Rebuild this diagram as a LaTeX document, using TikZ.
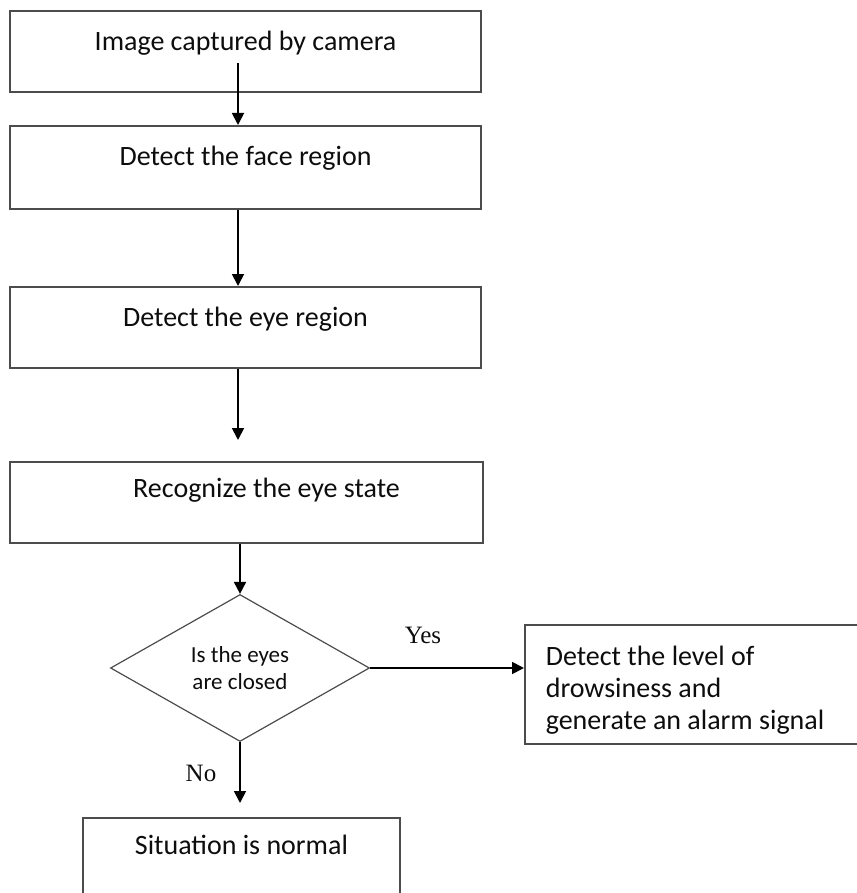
\documentclass[tikz,border=0pt]{standalone}
\usepackage{fontspec}
\setmainfont{Carlito}
\newfontfamily\answerFont{Liberation Serif}
\usetikzlibrary{shapes.geometric,arrows.meta,positioning,calc}
\definecolor{flowEdge}{gray}{0.30}
\definecolor{flowInk} {gray}{0.05}

\begin{document}
\begin{tikzpicture}[x=1pt, y=-1pt,
      stepbox/.style={draw=flowEdge, line width=1.6pt, anchor=north,
                      minimum width=471pt, inner ysep=0pt,
                      text height=40pt, text depth=41pt, text=flowInk,
                      font=\fontsize{28}{32}\selectfont},
      decision/.style={diamond, draw=flowEdge, line width=1.2pt,
                       minimum width=259pt, minimum height=147pt, aspect=1.76,
                       inner sep=0pt, align=center, text=flowInk,
                       font=\fontsize{23}{27}\selectfont},
      flow/.style={-{Triangle[length=12pt,width=12pt]}, line width=1.8pt, draw=black},
      answer/.style={text=flowInk, font=\answerFont\fontsize{25}{28}\selectfont}]
    \useasboundingbox (0,0) rectangle (856,893);
    % main column
    \node[stepbox] (camera) at (245.5,10)  {Image captured by camera};
    \node[stepbox, text depth=43pt] (face) at (245.5,125) {Detect the face region};
    \node[stepbox] (eyes)   at (245.5,286) {Detect the eye region};
    \node[stepbox, minimum width=473pt, text height=36pt, text depth=45pt]
      (state) at (246.5,461) {\hspace*{40pt}Recognize the eye state};
    \node[decision] (closed) at (240,668) {Is the eyes\\are closed};
    % outcomes
    \node[draw=flowEdge, line width=1.6pt, anchor=north west, text=flowInk,
          minimum height=119pt, text width=294pt, inner xsep=21pt, align=flush left,
          font=\fontsize{28}{32}\selectfont]
      (alarm) at (524,624) {\rule{0pt}{31pt}Detect the level of\\drowsiness and\\generate an alarm signal};
    \node[stepbox, minimum width=317pt, text height=37pt, text depth=50pt]
      (normal) at (241.5,817) {Situation is normal};
    \node[answer] (yes) at (423,635) {Yes};
    \node[answer] (no)  at (201,773) {No};

    \coordinate (cameraTail) at (238,63);
    \coordinate (eyesHead)   at (238,440);
    \coordinate (noHead)     at (240,803);
    \draw[flow] (cameraTail) -- (cameraTail |- face.north);
    \draw[flow] (face.south -| cameraTail) -- (eyes.north -| cameraTail);
    \draw[flow] (eyes.south -| cameraTail) -- (eyesHead);
    \draw[flow] (state.south -| closed.north) -- (closed.north);
    \draw[flow] (closed.east) -- (closed.east -| alarm.west);
    \draw[flow] (closed.south) -- (noHead);
\end{tikzpicture}
\end{document}
